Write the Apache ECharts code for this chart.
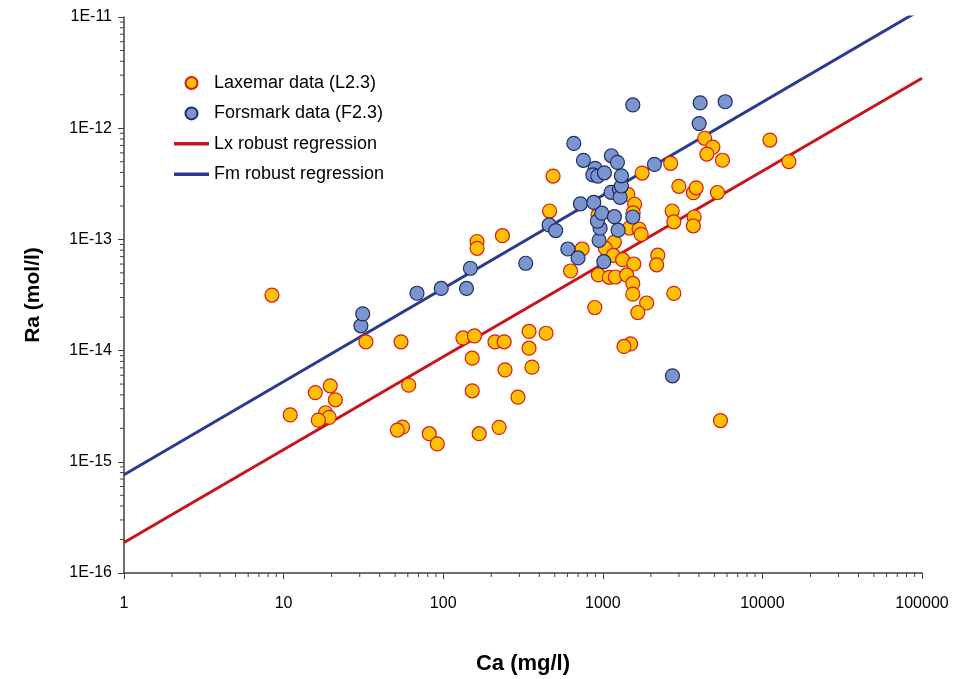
<!DOCTYPE html>
<html>
<head>
<meta charset="utf-8">
<script src="https://cdn.jsdelivr.net/npm/echarts@6/dist/echarts.min.js"></script>
<style>
  html, body { margin: 0; padding: 0; background: #fff; }
  #chart { width: 954px; height: 679px; }
</style>
</head>
<body>
<div id="chart"></div>
<script>
// Laxemar groundwater samples: [Ca (mg/l), Ra (mol/l)]
const laxemarCa = [8.45, 32.8, 54.4, 133, 157, 211, 241, 345, 441, 345, 152, 244, 360, 60.8, 152, 294,
  55.6, 51.6, 81.8, 91.8, 168, 224, 11.0, 15.8, 19.6, 21.1, 18.3, 19.3, 16.5, 488, 464, 235, 163, 163,
  1764, 2662, 4346, 4895, 4487, 5621, 11140, 14660, 2996, 3698, 3846, 5229, 1435, 1582, 1549, 2720,
  2787, 3736, 3693, 1468, 1689, 1739, 1182, 1038, 742, 628, 1164, 1331, 1564, 2212, 2174, 938, 1099,
  1198, 1410, 1542, 1542, 1882, 1657, 891, 2787, 1494, 1357, 5462, 934];
const laxemarRa = [3.16e-14, 1.20e-14, 1.20e-14, 1.30e-14, 1.355e-14, 1.20e-14, 1.20e-14, 1.488e-14, 1.433e-14,
  1.051e-14, 8.55e-15, 6.71e-15, 7.10e-15, 4.89e-15, 4.35e-15, 3.81e-15, 2.05e-15, 1.93e-15, 1.79e-15,
  1.45e-15, 1.79e-15, 2.04e-15, 2.64e-15, 4.19e-15, 4.82e-15, 3.61e-15, 2.76e-15, 2.51e-15, 2.37e-15,
  3.71e-13, 1.80e-13, 1.08e-13, 9.57e-14, 8.32e-14, 3.95e-13, 4.83e-13, 8.12e-13, 6.76e-13, 5.85e-13,
  5.15e-13, 7.82e-13, 5.01e-13, 3.00e-13, 2.63e-13, 2.91e-13, 2.64e-13, 2.54e-13, 2.07e-13, 1.73e-13,
  1.80e-13, 1.44e-13, 1.59e-13, 1.325e-13, 1.266e-13, 1.24e-13, 1.11e-13, 9.47e-14, 8.32e-14, 8.20e-14,
  5.20e-14, 7.17e-14, 6.57e-14, 6.01e-14, 7.21e-14, 5.91e-14, 4.79e-14, 4.56e-14, 4.59e-14, 4.79e-14,
  4.02e-14, 3.22e-14, 2.68e-14, 2.20e-14, 2.44e-14, 3.27e-14, 1.15e-14, 1.09e-14, 2.35e-15, 1.66e-13];

// Forsmark groundwater samples: [Ca (mg/l), Ra (mol/l)]
const forsmarkCa = [30.5, 31.3, 68.5, 97.2, 140, 148, 329, 461, 507, 604, 700, 1015, 948, 962, 925, 1247,
  724, 878, 986, 1182, 1542, 1127, 1271, 1284, 1308, 658, 756, 1132, 1235, 895, 866, 930, 1023, 1308,
  2106, 1542, 4074, 5846, 4016, 2732];
const forsmarkRa = [1.67e-14, 2.14e-14, 3.28e-14, 3.62e-14, 3.62e-14, 5.50e-14, 6.10e-14, 1.35e-13, 1.20e-13,
  8.20e-14, 6.81e-14, 6.30e-14, 9.81e-14, 1.26e-13, 1.46e-13, 1.21e-13, 2.09e-13, 2.15e-13, 1.72e-13,
  1.60e-13, 1.59e-13, 2.65e-13, 2.82e-13, 2.39e-13, 3.02e-13, 7.30e-13, 5.14e-13, 5.65e-13, 4.93e-13,
  4.35e-13, 3.81e-13, 3.71e-13, 3.97e-13, 3.73e-13, 4.73e-13, 1.62e-12, 1.69e-12, 1.73e-12, 1.10e-12,
  5.93e-15];

// Robust regression lines (end points over the Ca range)
const regressionCa = [1, 100000];
const lxRegressionRa = [1.88e-16, 2.81e-12];
const fmRegressionRa = [7.64e-16, 1.18e-11];

// Axis ranges, tick labels and minor tick multipliers
const caMin = 1, caMax = 100000;
const raMin = 1e-16, raMax = 1e-11;
const caTickLabels = ['1', '10', '100', '1000', '10000', '100000'];
const raTickLabels = ['1E-16', '1E-15', '1E-14', '1E-13', '1E-12', '1E-11'];
const minorMultipliers = [2, 3, 4, 5, 6, 7, 8, 9];
const caDecades = [1, 10, 100, 1000, 10000];
const raDecades = [1e-16, 1e-15, 1e-14, 1e-13, 1e-12];

const zip = (a, b) => a.map((v, i) => [v, b[i]]);
const caMinor = [];
caDecades.forEach(d => minorMultipliers.forEach(m => caMinor.push(d * m)));
const raMinor = [];
raDecades.forEach(d => minorMultipliers.forEach(m => raMinor.push(d * m)));

const axisColor = '#404040';
const font = 'Liberation Sans, Arial, sans-serif';
const lineIcon = 'path://M0,0H34V3.5H0Z';

const chart = echarts.init(document.getElementById('chart'), null, { renderer: 'canvas' });

const option = {
  backgroundColor: '#ffffff',
  animation: false,
  grid: { left: 124, right: 32, top: 17, bottom: 106, containLabel: false, outerBoundsMode: 'none' },
  legend: {
    orient: 'vertical',
    left: 169,
    top: 69,
    padding: 5,
    itemWidth: 35,
    itemHeight: 12,
    itemGap: 12.4,
    textStyle: { fontFamily: font, fontSize: 18, color: '#000', lineHeight: 18 },
    data: [
      { name: 'Laxemar data (L2.3)' },
      { name: 'Forsmark data (F2.3)' },
      { name: 'Lx robust regression', icon: lineIcon },
      { name: 'Fm robust regression', icon: lineIcon }
    ]
  },
  xAxis: {
    type: 'log',
    logBase: 10,
    min: caMin,
    max: caMax,
    name: 'Ca (mg/l)',
    nameLocation: 'middle',
    nameGap: 80,
    nameTextStyle: { fontFamily: font, fontSize: 22, fontWeight: 'bold', color: '#000' },
    axisLine: { show: true, onZero: false, lineStyle: { color: axisColor, width: 1.5 } },
    axisTick: { show: true, inside: false, length: 6, lineStyle: { color: axisColor } },
    splitLine: { show: false },
    axisLabel: {
      margin: 23,
      fontFamily: font,
      fontSize: 16,
      color: '#000',
      formatter: v => caTickLabels[Math.round(Math.log10(v))]
    }
  },
  yAxis: {
    type: 'log',
    logBase: 10,
    min: raMin,
    max: raMax,
    name: 'Ra (mol/l)',
    nameLocation: 'middle',
    nameGap: 80,
    nameRotate: 90,
    nameTextStyle: { fontFamily: font, fontSize: 21, fontWeight: 'bold', color: '#000' },
    axisLine: { show: true, onZero: false, lineStyle: { color: axisColor, width: 1.5 } },
    axisTick: { show: true, inside: false, length: 6, lineStyle: { color: axisColor } },
    splitLine: { show: false },
    axisLabel: {
      margin: 12,
      fontFamily: font,
      fontSize: 16,
      color: '#000',
      formatter: v => raTickLabels[Math.round(Math.log10(v)) + 16]
    }
  },
  series: [
    {
      name: 'Lx robust regression',
      type: 'line',
      data: zip(regressionCa, lxRegressionRa),
      symbol: 'none',
      clip: true,
      z: 2,
      lineStyle: { color: '#C8141B', width: 3 },
      itemStyle: { color: '#C8141B', borderWidth: 0 }
    },
    {
      name: 'Fm robust regression',
      type: 'line',
      data: zip(regressionCa, fmRegressionRa),
      symbol: 'none',
      clip: true,
      z: 2,
      lineStyle: { color: '#2E3A8E', width: 3 },
      itemStyle: { color: '#2E3A8E', borderWidth: 0 }
    },
    {
      name: 'Laxemar data (L2.3)',
      type: 'scatter',
      data: zip(laxemarCa, laxemarRa),
      symbol: 'circle',
      symbolSize: 14,
      z: 3,
      itemStyle: { color: '#FFC000', borderColor: '#D7191C', borderWidth: 1.2, opacity: 1 }
    },
    {
      name: 'Forsmark data (F2.3)',
      type: 'scatter',
      data: zip(forsmarkCa, forsmarkRa),
      symbol: 'circle',
      symbolSize: 14,
      z: 4,
      itemStyle: { color: '#7B96CE', borderColor: '#1F2C68', borderWidth: 1.2, opacity: 1 }
    },
    {
      // minor ticks on the Ca axis at 2..9 of each decade
      type: 'custom',
      silent: true,
      clip: false,
      z: 5,
      data: caMinor.map(v => [v, raMin]),
      renderItem: (params, api) => {
        const p = api.coord([api.value(0), api.value(1)]);
        return {
          type: 'line',
          shape: { x1: p[0], y1: p[1], x2: p[0], y2: p[1] + 4 },
          style: { stroke: axisColor, lineWidth: 1 }
        };
      }
    },
    {
      // minor ticks on the Ra axis at 2..9 of each decade
      type: 'custom',
      silent: true,
      clip: false,
      z: 5,
      data: raMinor.map(v => [caMin, v]),
      renderItem: (params, api) => {
        const p = api.coord([api.value(0), api.value(1)]);
        return {
          type: 'line',
          shape: { x1: p[0], y1: p[1], x2: p[0] - 4, y2: p[1] },
          style: { stroke: axisColor, lineWidth: 1 }
        };
      }
    }
  ]
};

chart.setOption(option);
</script>
</body>
</html>
